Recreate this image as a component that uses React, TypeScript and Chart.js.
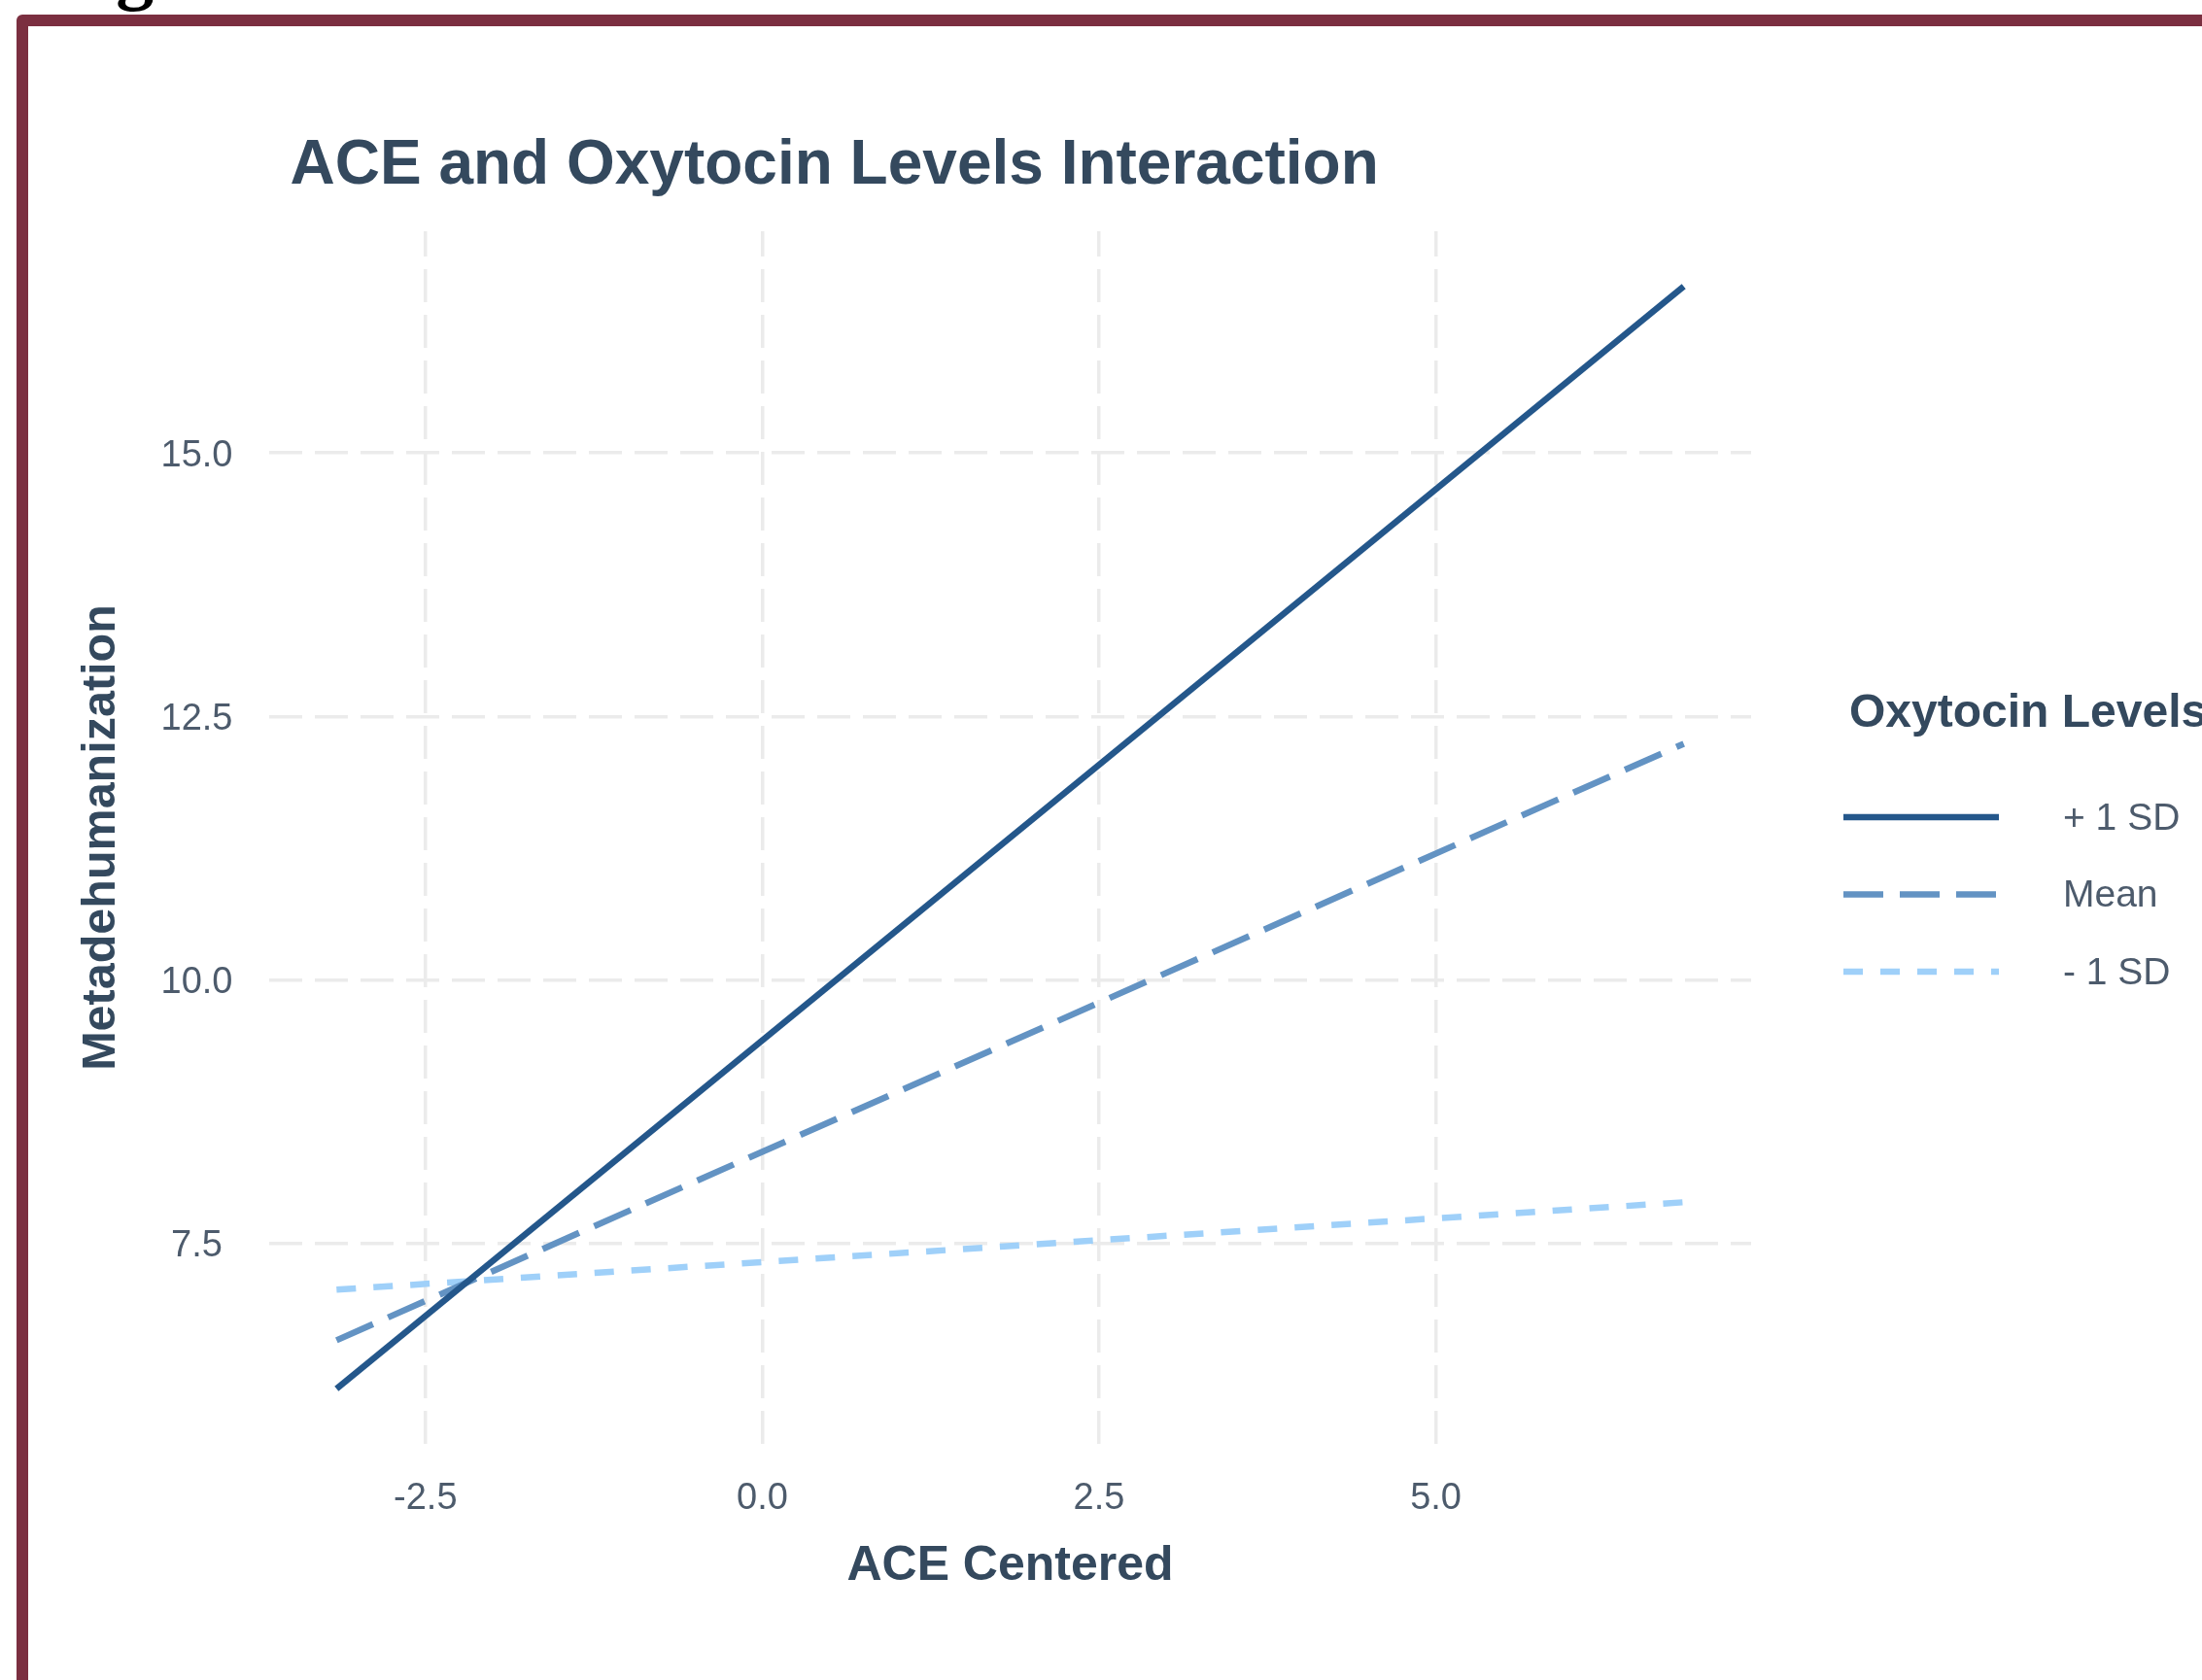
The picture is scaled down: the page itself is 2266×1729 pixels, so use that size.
import React, { useEffect, useRef } from 'react';
import { Chart, registerables } from 'chart.js';

Chart.register(...registerables);

// ---- Data ----
const ACE_CENTERED = [-3.16, 6.84];
const PLUS_1SD = [6.12, 16.58];
const MEAN_OXY = [6.58, 12.24];
const MINUS_1SD = [7.06, 7.89];

const SERIES_LABELS = ['+ 1 SD', 'Mean', '- 1 SD'];
const X_TICKS = [-2.5, 0, 2.5, 5];
const Y_TICKS = [7.5, 10, 12.5, 15];

const TITLE = 'ACE and Oxytocin Levels Interaction';
const X_TITLE = 'ACE Centered';
const Y_TITLE = 'Metadehumanization';
const LEGEND_TITLE = 'Oxytocin Levels';

// ---- Styles ----
const FONT = '"Liberation Sans", Arial, Helvetica, sans-serif';
const DARK = '#34495E';
const TICK_COLOR = '#4D5B6C';
const GRID = '#EBEBEB';
const COLORS = ['#24578B', '#6393C3', '#9FD0F9'];
const DASHES: number[][] = [[], [41, 17], [20, 18]];
const LINE_W = 6.5;

function expandRange(vals: number[]): [number, number] {
  const lo = Math.min(...vals);
  const hi = Math.max(...vals);
  const pad = (hi - lo) * 0.05;
  return [lo - pad, hi + pad];
}

const titleLegendPlugin = {
  id: 'titleLegend',
  afterDraw(chart: any) {
    const { ctx, chartArea } = chart;
    ctx.save();
    // Title
    ctx.fillStyle = DARK;
    ctx.font = `bold 64px ${FONT}`;
    ctx.textAlign = 'left';
    ctx.textBaseline = 'middle';
    ctx.fillText(TITLE, chartArea.left + 21.5, chartArea.top - 67);

    // Legend
    const lx = chartArea.right + 95;
    const ty = 708;
    ctx.font = `bold 48px ${FONT}`;
    ctx.fillText(LEGEND_TITLE, chartArea.right + 101, ty);
    chart.data.datasets.forEach((ds: any, i: number) => {
      const y = ty + 106 + i * 79.5;
      ctx.save();
      ctx.strokeStyle = ds.borderColor;
      ctx.lineWidth = ds.borderWidth;
      ctx.lineCap = 'butt';
      ctx.setLineDash(ds.borderDash || []);
      ctx.beginPath();
      ctx.moveTo(lx, y);
      ctx.lineTo(lx + 160, y);
      ctx.stroke();
      ctx.restore();
      ctx.fillStyle = TICK_COLOR;
      ctx.font = `39px ${FONT}`;
      ctx.textBaseline = 'middle';
      ctx.fillText(ds.label, chartArea.right + 321, y + 2);
    });
    ctx.restore();
  },
};

function ChartView() {
  const ref = useRef<HTMLCanvasElement | null>(null);
  useEffect(() => {
    if (!ref.current) return;
    const [xMin, xMax] = expandRange(ACE_CENTERED);
    const [yMin, yMax] = expandRange([...PLUS_1SD, ...MEAN_OXY, ...MINUS_1SD]);
    const series = [PLUS_1SD, MEAN_OXY, MINUS_1SD];
    const chart = new Chart(ref.current, {
      type: 'line',
      data: {
        datasets: series.map((ys, i) => ({
          label: SERIES_LABELS[i],
          data: ACE_CENTERED.map((x, j) => ({ x, y: ys[j] })),
          borderColor: COLORS[i],
          backgroundColor: COLORS[i],
          borderWidth: LINE_W,
          borderDash: DASHES[i],
          borderCapStyle: 'butt',
          pointRadius: 0,
          tension: 0,
          fill: false,
        })),
      },
      options: {
        animation: false,
        responsive: true,
        maintainAspectRatio: false,
        devicePixelRatio: 1,
        layout: { padding: { top: 211, right: 527, bottom: 0, left: 0 } },
        plugins: {
          legend: { display: false },
          title: { display: false },
          tooltip: { enabled: false },
        },
        scales: {
          x: {
            type: 'linear',
            min: xMin,
            max: xMax,
            afterBuildTicks: (scale: any) => {
              scale.ticks = X_TICKS.map((v) => ({ value: v }));
            },
            afterFit: (scale: any) => {
              scale.height = 156;
            },
            ticks: {
              callback: (v: any) => Number(v).toFixed(1),
              font: { family: FONT, size: 38 },
              color: TICK_COLOR,
              padding: 34,
              maxRotation: 0,
            },
            grid: { color: GRID, lineWidth: 3.5, drawTicks: false },
            border: { display: false, dash: [34, 13], dashOffset: 8 },
            title: {
              display: true,
              text: X_TITLE,
              color: DARK,
              font: { family: FONT, size: 50, weight: 'bold' },
              padding: { top: 0, bottom: 0 },
            },
          },
          y: {
            type: 'linear',
            min: yMin,
            max: yMax,
            afterBuildTicks: (scale: any) => {
              scale.ticks = Y_TICKS.map((v) => ({ value: v }));
            },
            afterFit: (scale: any) => {
              scale.width = 248;
            },
            ticks: {
              callback: (v: any) => Number(v).toFixed(1),
              font: { family: FONT, size: 38 },
              color: TICK_COLOR,
              padding: 37.5,
              crossAlign: 'center',
              labelOffset: 3,
            },
            grid: { color: GRID, lineWidth: 3.5, drawTicks: false },
            border: { display: false, dash: [34, 13], dashOffset: 0 },
            title: {
              display: true,
              text: Y_TITLE,
              color: DARK,
              font: { family: FONT, size: 48.5, weight: 'bold' },
              padding: { top: 47, bottom: 0 },
            },
          },
        },
      } as any,
      plugins: [titleLegendPlugin],
    });
    return () => chart.destroy();
  }, []);
  return <canvas ref={ref} />;
}

export default function App() {
  return (
    <div
      style={{
        position: 'absolute',
        left: 0,
        top: 0,
        width: 2266,
        height: 1729,
        overflow: 'hidden',
        background: '#ffffff',
      }}
    >
      <div
        style={{
          position: 'absolute',
          left: 50,
          top: -70,
          fontFamily: '"Liberation Serif", "Times New Roman", serif',
          fontWeight: 'bold',
          fontSize: 78,
          lineHeight: 1,
          color: '#000',
          whiteSpace: 'nowrap',
        }}
      >
        Figure 2
      </div>
      <div
        style={{
          position: 'absolute',
          left: 17,
          top: 15,
          width: 2400,
          height: 1900,
          border: '12px solid #7B2F40',
          borderRadius: 6,
          boxSizing: 'border-box',
          background: '#ffffff',
        }}
      >
        <div style={{ position: 'absolute', left: 0, top: 0, width: 2300, height: 1615 }}>
          <ChartView />
        </div>
      </div>
    </div>
  );
}
